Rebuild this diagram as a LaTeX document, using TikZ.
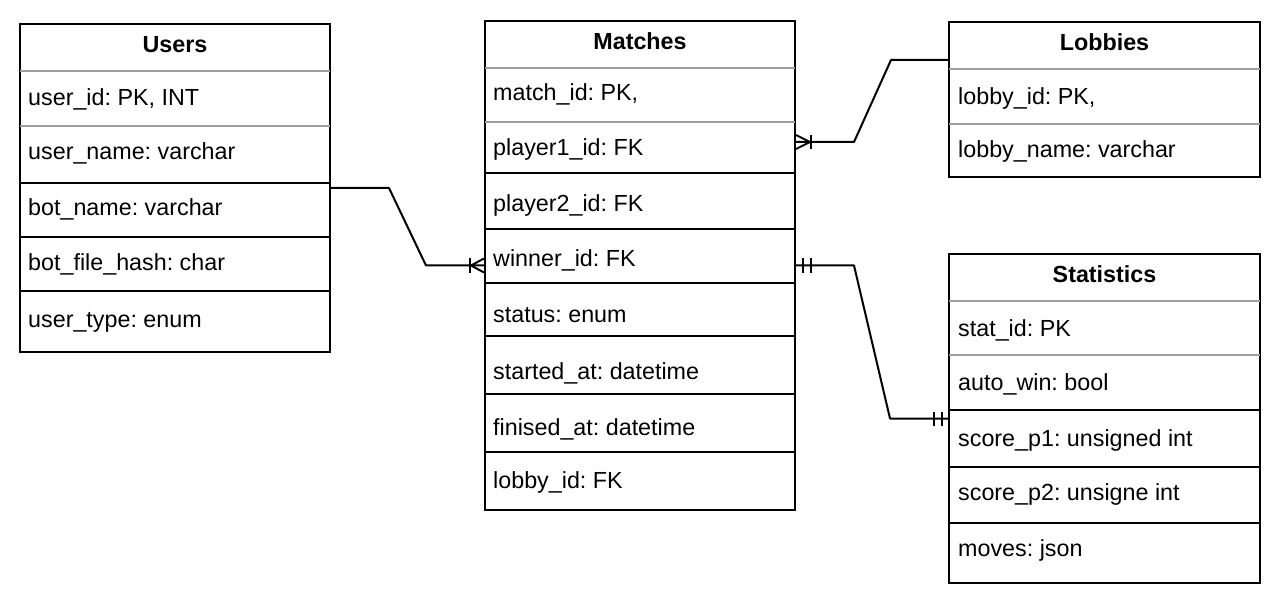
\documentclass[tikz,border=0pt]{standalone}
\usepackage{fontspec}
\setmainfont{Liberation Sans}
\frenchspacing
\definecolor{sepgrey}{RGB}{158,158,158}
\newcommand\erfont{\fontsize{23.3}{28}\selectfont}
\tikzset{
  tablebox/.style={draw, rectangle, line width=2pt, inner sep=0pt},
  rowline/.style={line width=2pt},
  greyline/.style={line width=2pt, draw=sepgrey},
  tabtitle/.style={anchor=base, inner sep=0pt, font=\erfont\bfseries},
  field/.style={anchor=base west, inner sep=0pt, font=\erfont},
  link/.style={line width=2pt, line join=round}
}
\begin{document}
\begin{tikzpicture}[x=1pt, y=1pt]
        \useasboundingbox (0,0) rectangle (1280,-604);

        \node[tablebox, minimum width=310pt, minimum height=328pt] (users) at (175,-188) {};
        \node[tablebox, minimum width=310pt, minimum height=489pt] (matches) at (640,-265.5) {};
        \node[tablebox, minimum width=311pt, minimum height=155pt] (lobbies) at (1104.5,-99.5) {};
        \node[tablebox, minimum width=311pt, minimum height=329pt] (stats) at (1104.5,-418.5) {};

        \foreach \y in {71,126} \draw[greyline] (20,-\y) -- (330,-\y);
        \foreach \y in {183,237,291} \draw[rowline] (20,-\y) -- (330,-\y);
        \foreach \y in {68,122} \draw[greyline] (485,-\y) -- (795,-\y);
        \foreach \y in {173,229,283,336,394,452} \draw[rowline] (485,-\y) -- (795,-\y);
        \foreach \y in {69,124} \draw[greyline] (949,-\y) -- (1260,-\y);
        \foreach \y in {301,355} \draw[greyline] (949,-\y) -- (1260,-\y);
        \foreach \y in {410,467,523} \draw[rowline] (949,-\y) -- (1260,-\y);

        \node[tabtitle] (userstitle) at (175,-53) {Users};
        \node[field] (u1) at (28,-106) {user\_id: PK, INT};
        \node[field] (u2) at (28,-160) {user\_name: varchar};
        \node[field] (u3) at (28,-216) {bot\_name: varchar};
        \node[field] (u4) at (28,-270) {bot\_file\_hash: char};
        \node[field] (u5) at (28,-327) {user\_type: enum};

        \node[tabtitle] (matchestitle) at (640,-50) {Matches};
        \node[field] (m1) at (493,-101) {match\_id: PK,};
        \node[field] (m2) at (493,-156) {player1\_id: FK};
        \node[field] (m3) at (493,-212) {player2\_id: FK};
        \node[field] (m4) at (493,-266) {winner\_id: FK};
        \node[field] (m5) at (493,-322) {status: enum};
        \node[field] (m6) at (493,-379) {started\_at: datetime};
        \node[field] (m7) at (493,-435) {finised\_at: datetime};
        \node[field] (m8) at (493,-488) {lobby\_id: FK};

        \node[tabtitle] (lobbiestitle) at (1104.5,-51) {Lobbies};
        \node[field] (l1) at (958,-105) {lobby\_id: PK,};
        \node[field] (l2) at (958,-158) {lobby\_name: varchar};

        \node[tabtitle] (statstitle) at (1104.5,-283) {Statistics};
        \node[field] (s1) at (958,-336) {stat\_id: PK};
        \node[field] (s2) at (958,-390) {auto\_win: bool};
        \node[field] (s3) at (958,-446) {score\_p1: unsigned int};
        \node[field] (s4) at (958,-500) {score\_p2: unsigne int};
        \node[field] (s5) at (958,-556) {moves: json};

        \coordinate (playerout) at ([yshift=-122pt]matches.north east);
        \coordinate (lobbyin) at ([yshift=-39pt]lobbies.north west);

        \draw[link] (users.east) -- ++(58,0) -- ([xshift=-58pt]matches.west) -- (matches.west);
        \draw[link] ([xshift=-14pt,yshift=7pt]matches.west) -- ++(0,-14);
        \draw[link] ([yshift=7pt]matches.west) -- ([xshift=-13pt]matches.west) -- ([yshift=-7pt]matches.west);

        \draw[link] (playerout) -- ++(58,0) -- ([xshift=-57pt]lobbyin) -- (lobbyin);
        \draw[link] ([xshift=15pt,yshift=7pt]playerout) -- ++(0,-14);
        \draw[link] ([yshift=7pt]playerout) -- ([xshift=14pt]playerout) -- ([yshift=-7pt]playerout);

        \draw[link] (matches.east) -- ++(58,0) -- ([xshift=-58pt]stats.west) -- (stats.west);
        \foreach \dx in {7,15} \draw[link] ([xshift=\dx pt,yshift=7pt]matches.east) -- ++(0,-14);
        \foreach \dx in {-14,-6} \draw[link] ([xshift=\dx pt,yshift=7pt]stats.west) -- ++(0,-14);
      \end{tikzpicture}
\end{document}
